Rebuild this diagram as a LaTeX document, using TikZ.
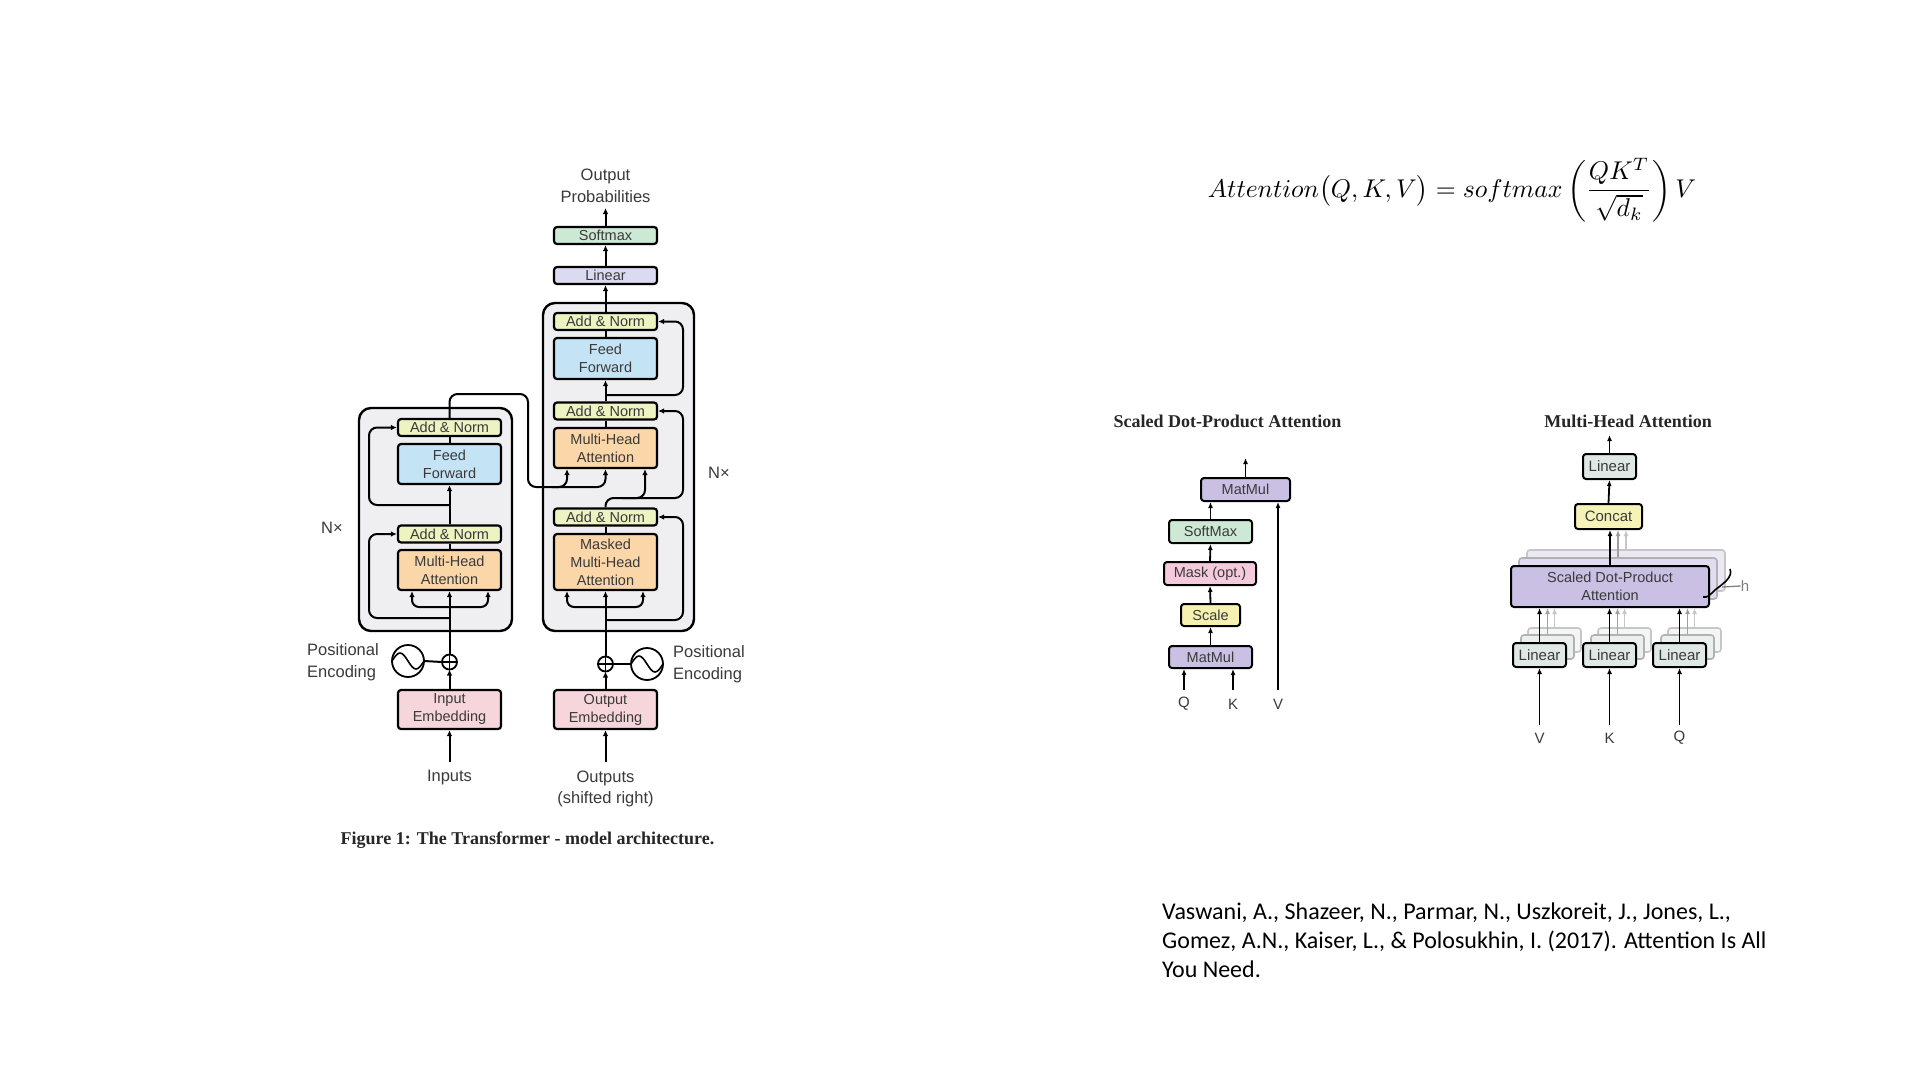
\documentclass[tikz,border=0pt]{standalone}
\usepackage{fontspec}
\usepackage{graphicx}
\usetikzlibrary{arrows.meta,calc}
\newfontfamily\lsans{Liberation Sans}
\newfontfamily\lserif{Liberation Serif}
\newfontfamily\carl{Carlito}
\definecolor{txt}{HTML}{3A3A3A}
\definecolor{blockbg}{HTML}{EFEFF2}
\definecolor{addnorm}{HTML}{EEF3C2}
\definecolor{ffblue}{HTML}{C4E3F4}
\definecolor{mhaor}{HTML}{FAD6A8}
\definecolor{embpink}{HTML}{F6D5DB}
\definecolor{smgreen}{HTML}{CDE8D4}
\definecolor{linlav}{HTML}{DADAF0}
\definecolor{mmpurp}{HTML}{C9C0E3}
\definecolor{maskpink}{HTML}{F5CADC}
\definecolor{scaley}{HTML}{F5F1B0}
\definecolor{lingray}{HTML}{E0E8E6}
\definecolor{concaty}{HTML}{F6F3B9}
\begin{document}
\begin{tikzpicture}[x=1pt,y=-1pt,
  box/.style={draw=black, line width=2.2pt, rounded corners=3pt, text=txt,
    font=\lsans\fontsize{14.5}{18}\selectfont, align=center, inner sep=0pt, minimum width=103pt},
  sbox/.style={draw=black, line width=2pt, rounded corners=3pt, text=txt,
    font=\lsans\fontsize{14.5}{18}\selectfont, align=center, inner sep=0pt},
  shbox/.style={draw=gray!45, line width=1.6pt, rounded corners=3pt, inner sep=0pt},
  block/.style={draw=black, line width=2.4pt, rounded corners=12pt, fill=blockbg, inner sep=0pt},
  lbl/.style={text=txt, font=\lsans\fontsize{16.5}{21.5}\selectfont, align=center, inner sep=0pt},
  slbl/.style={text=txt, font=\lsans\fontsize{15}{18}\selectfont, inner sep=0pt},
  ttl/.style={text=black!85, font=\lserif\bfseries\fontsize{18}{22}\selectfont, inner sep=0pt},
  circ/.style={draw=black, circle, line width=1.8pt, inner sep=0pt, outer sep=0pt},
  conn/.style={line width=2pt, draw=black},
  arr/.style={conn, -{Latex[length=6pt,width=5.5pt]}},
  arr2/.style={line width=1.8pt, draw=black, -{Latex[length=6pt,width=5pt]}},
  cite/.style={text=black, font=\carl\fontsize{24}{29}\selectfont, inner sep=0pt, anchor=base west}
]
\useasboundingbox (0,0) rectangle (1920,1080);
\fill[white] (0,0) rectangle (1920,1080);

% ---------------- Transformer ----------------
\node[block, minimum width=153pt, minimum height=223pt] (encblock) at (435.5,519.5) {};
\node[block, minimum width=151pt, minimum height=328pt] (decblock) at (618.5,467) {};

% encoder boxes
\node[box, fill=addnorm, minimum height=17pt] (anE2) at (449.5,427.5) {Add \& Norm};
\node[box, fill=ffblue, minimum height=40pt] (ffE) at (449.5,464) {Feed\\Forward};
\node[box, fill=addnorm, minimum height=17pt] (anE1) at (449.5,534) {Add \& Norm};
\node[box, fill=mhaor, minimum height=40pt] (mhaE) at (449.5,570) {Multi-Head\\Attention};
\node[box, fill=embpink, minimum height=39pt] (inemb) at (449.5,709.5) {Input\\Embedding};
\node[circ, minimum size=15pt] (plusE) at (449.5,662) {};
\node[circ, minimum size=32pt] (sinE) at (408,661) {};

% decoder boxes
\node[box, fill=smgreen, minimum height=17pt] (smD) at (605.5,235.5) {Softmax};
\node[box, fill=linlav, minimum height=17pt] (linD) at (605.5,275.5) {Linear};
\node[box, fill=addnorm, minimum height=17pt] (anD3) at (605.5,321.5) {Add \& Norm};
\node[box, fill=ffblue, minimum height=41pt] (ffD) at (605.5,358.5) {Feed\\Forward};
\node[box, fill=addnorm, minimum height=17pt] (anD2) at (605.5,411) {Add \& Norm};
\node[box, fill=mhaor, minimum height=40pt] (mhaD) at (605.5,448) {Multi-Head\\Attention};
\node[box, fill=addnorm, minimum height=17pt] (anD1) at (605.5,517) {Add \& Norm};
\node[box, fill=mhaor, minimum height=56pt] (mmhaD) at (605.5,562) {Masked\\Multi-Head\\Attention};
\node[box, fill=embpink, minimum height=39pt] (outemb) at (605.5,709.5) {Output\\Embedding};
\node[circ, minimum size=15pt] (plusD) at (605.5,664) {};
\node[circ, minimum size=32pt] (sinD) at (647,664) {};

% plus and sine glyphs
\draw[line width=1.5pt] (plusE.north) -- (plusE.south) (plusE.west) -- (plusE.east);
\draw[line width=1.5pt] (plusD.north) -- (plusD.south) (plusD.west) -- (plusD.east);
\draw[line width=1.6pt] ($(sinE.center)+(-16,0)$) sin ($(sinE.center)+(-8,-8)$) cos (sinE.center) sin ($(sinE.center)+(8,8)$) cos ($(sinE.center)+(16,0)$);
\draw[line width=1.6pt] ($(sinD.center)+(-16,0)$) sin ($(sinD.center)+(-8,-8)$) cos (sinD.center) sin ($(sinD.center)+(8,8)$) cos ($(sinD.center)+(16,0)$);

% labels
\node[lbl] (outprob) at (605.5,186) {Output\\Probabilities};
\node[lbl] (inputs) at (449.5,778) {Inputs};
\node[lbl] (outputs) at (605.5,789) {Outputs\\(shifted right)};
\node[lbl, align=left, anchor=west] (peE) at (307,662) {Positional\\Encoding};
\node[lbl, align=left, anchor=west] (peD) at (673,664) {Positional\\Encoding};
\node[lbl] (nxE) at (332,528) {N×};
\node[lbl] (nxD) at (719,473) {N×};
\coordinate (inE) at (449.5,762);
\coordinate (outE) at (605.5,762);
\coordinate (outP) at (605.5,208);

% encoder connectors
\draw[arr] (inE) -- (inemb.south);
\draw[arr] (inemb.north) -- (plusE.south);
\draw[conn] (sinE.east) -- (plusE.west);
\draw[arr] (plusE.north) -- (mhaE.south);
\draw[arr, rounded corners=7pt] (449.5,607) -| ([xshift=-37.5pt]mhaE.south);
\draw[arr, rounded corners=7pt] (449.5,607) -| ([xshift=38.5pt]mhaE.south);
\draw[arr, rounded corners=8pt] (449.5,618) -| (369,534) -- (anE1.west);
\draw[conn] (mhaE.north) -- (anE1.south);
\draw[arr] (anE1.north) -- (ffE.south);
\draw[arr, rounded corners=8pt] (449.5,505) -| (369,427.5) -- (anE2.west);
\draw[conn] (ffE.north) -- (anE2.south);
\draw[arr, rounded corners=8pt] (anE2.north) |- (528,394) |- (567,487) -- ([xshift=-38.5pt]mhaD.south);
\draw[arr, rounded corners=8pt] (552,487) -| (mhaD.south);

% decoder connectors
\draw[arr] (outE) -- (outemb.south);
\draw[arr] (outemb.north) -- (plusD.south);
\draw[conn] (plusD.east) -- (sinD.west);
\draw[arr] (plusD.north) -- (mmhaD.south);
\draw[arr, rounded corners=7pt] (605.5,607) -| ([xshift=-38.5pt]mmhaD.south);
\draw[arr, rounded corners=7pt] (605.5,607) -| ([xshift=37.5pt]mmhaD.south);
\draw[arr, rounded corners=8pt] (605.5,620) -| (683,517) -- (anD1.east);
\draw[conn] (mmhaD.north) -- (anD1.south);
\draw[arr, rounded corners=8pt] (anD1.north) |- (683,498) |- (anD2.east);
\draw[arr, rounded corners=8pt] (622,498) -| ([xshift=39.5pt]mhaD.south);
\draw[conn] (mhaD.north) -- (anD2.south);
\draw[arr] (anD2.north) -- (ffD.south);
\draw[arr, rounded corners=8pt] (605.5,395) -| (683,321.5) -- (anD3.east);
\draw[conn] (ffD.north) -- (anD3.south);
\draw[arr] (anD3.north) -- (linD.south);
\draw[arr] (linD.north) -- (smD.south);
\draw[arr] (smD.north) -- (outP);

\node[text=black!85, font=\lserif\bfseries\fontsize{18}{22}\selectfont, inner sep=0pt] (caption) at (527.5,840) {Figure 1: The Transformer - model architecture.};

% ---------------- Formula ----------------
\node[inner sep=0pt] (formula) at (1452,190) {\resizebox{488pt}{!}{$\displaystyle Attention\bigl(Q,K,V\bigr)=softmax\left(\frac{QK^{T}}{\sqrt{d_k}}\right)V$}};

% ---------------- Scaled Dot-Product Attention ----------------
\node[ttl] (sdpaTitle) at (1227.5,421) {Scaled Dot-Product Attention};
\node[sbox, fill=mmpurp, minimum width=89pt, minimum height=23pt] (mmT) at (1245.5,489.5) {MatMul};
\node[sbox, fill=smgreen, minimum width=83pt, minimum height=23pt] (smax) at (1210.5,531.5) {SoftMax};
\node[sbox, fill=maskpink, minimum width=92pt, minimum height=23pt] (mask) at (1210,573.5) {Mask (opt.)};
\node[sbox, fill=scaley, minimum width=59pt, minimum height=22pt] (scale) at (1210.5,615) {Scale};
\node[sbox, fill=mmpurp, minimum width=83pt, minimum height=22pt] (mmB) at (1210.5,657) {MatMul};
\coordinate (sdOut) at (1245.5,458);
\coordinate (qIn) at (1184,690);
\coordinate (kIn) at (1233,690);
\coordinate (vIn) at (1278,690);
\node[slbl] (qL) at (1184,704) {Q};
\node[slbl] (kL) at (1233,704) {K};
\node[slbl] (vL) at (1278,704) {V};
\draw[arr2] (mmB.north) -- (scale.south);
\draw[arr2] (scale.north) -- (mask.south);
\draw[arr2] (mask.north) -- (smax.south);
\draw[arr2] (smax.north) -- (smax.north |- mmT.south);
\draw[arr2] (mmT.north) -- (sdOut);
\draw[arr2] (qIn) -- (qIn |- mmB.south);
\draw[arr2] (kIn) -- (kIn |- mmB.south);
\draw[arr2] (vIn) -- (vIn |- mmT.south);

% ---------------- Multi-Head Attention ----------------
\node[ttl] (mhaTitle) at (1628,421) {Multi-Head Attention};
\node[sbox, fill=lingray, minimum width=53pt, minimum height=25pt, font=\lsans\fontsize{15}{18}\selectfont] (linTop) at (1609.5,466.5) {Linear};
\node[sbox, fill=concaty, minimum width=67pt, minimum height=25pt, font=\lsans\fontsize{15}{18}\selectfont] (concat) at (1608.5,516.5) {Concat};
% shadows of attention heads
\node[shbox, fill=mmpurp!35, minimum width=198pt, minimum height=41pt] (sdpaS2) at (1626,570.5) {};
\node[shbox, fill=mmpurp!55, draw=gray!60, minimum width=198pt, minimum height=41pt] (sdpaS1) at (1618,578.5) {};
\draw[arr2, draw=gray!45] (sdpaS2.north) -- (sdpaS2.north |- concat.south);
\draw[arr2, draw=gray!75] (sdpaS1.north) -- (sdpaS1.north |- concat.south);
\node[sbox, fill=mmpurp, minimum width=198pt, minimum height=41pt] (sdpa) at (1610,586.5) {Scaled Dot-Product\\Attention};
\draw[arr2] (sdpa.north) -- (sdpa.north |- concat.south);
\draw[arr2] (concat.north) -- (linTop.south);
\coordinate (mhOut) at (1609.5,435);
\draw[arr2] (linTop.north) -- (mhOut);
% h marker
\draw[line width=1.6pt] (1730,569) .. controls (1733,577) and (1724,583) .. (1715,590) .. controls (1710,595) and (1707,598) .. (1703,597);
\coordinate (hA) at (1722,587);
\node[slbl, text=gray] (hL) at (1745,586) {h};
\draw[line width=1.3pt, gray] (hA) -- (hL.west);

% linear shadows
\foreach \cx/\nm in {1539.5/V,1609.5/K,1679.5/Q}{
  \node[shbox, fill=lingray!40, minimum width=53pt, minimum height=24pt] (lin\nm S2) at (\cx+15,640) {};
  \node[shbox, fill=lingray!65, draw=gray!60, minimum width=53pt, minimum height=24pt] (lin\nm S1) at (\cx+8,647) {};
  \draw[arr2, draw=gray!45] (lin\nm S2.north) -- (lin\nm S2.north |- sdpa.south);
  \draw[arr2, draw=gray!75] (lin\nm S1.north) -- (lin\nm S1.north |- sdpa.south);
}
\node[sbox, fill=lingray, minimum width=53pt, minimum height=24pt, font=\lsans\fontsize{15}{18}\selectfont] (linV) at (1539.5,655) {Linear};
\node[sbox, fill=lingray, minimum width=53pt, minimum height=24pt, font=\lsans\fontsize{15}{18}\selectfont] (linK) at (1609.5,655) {Linear};
\node[sbox, fill=lingray, minimum width=53pt, minimum height=24pt, font=\lsans\fontsize{15}{18}\selectfont] (linQ) at (1679.5,655) {Linear};
\draw[arr2] (linV.north) -- (linV.north |- sdpa.south);
\draw[arr2] (linK.north) -- (linK.north |- sdpa.south);
\draw[arr2] (linQ.north) -- (linQ.north |- sdpa.south);
\coordinate (vM) at (1539.5,725);
\coordinate (kM) at (1609.5,725);
\coordinate (qM) at (1679.5,725);
\draw[arr2] (vM) -- (linV.south);
\draw[arr2] (kM) -- (linK.south);
\draw[arr2] (qM) -- (linQ.south);
\node[slbl] (vML) at (1539.5,738) {V};
\node[slbl] (kML) at (1609.5,738) {K};
\node[slbl] (qML) at (1679.5,738) {Q};

% ---------------- Citation ----------------
\node[cite] (cite1) at (1162,919) {Vaswani, A., Shazeer, N., Parmar, N., Uszkoreit, J., Jones, L.,};
\node[cite] (cite2) at (1162,948) {Gomez, A.N., Kaiser, L., \& Polosukhin, I. (2017). Attention Is All};
\node[cite] (cite3) at (1162,977) {You Need.};
\end{tikzpicture}
\end{document}
